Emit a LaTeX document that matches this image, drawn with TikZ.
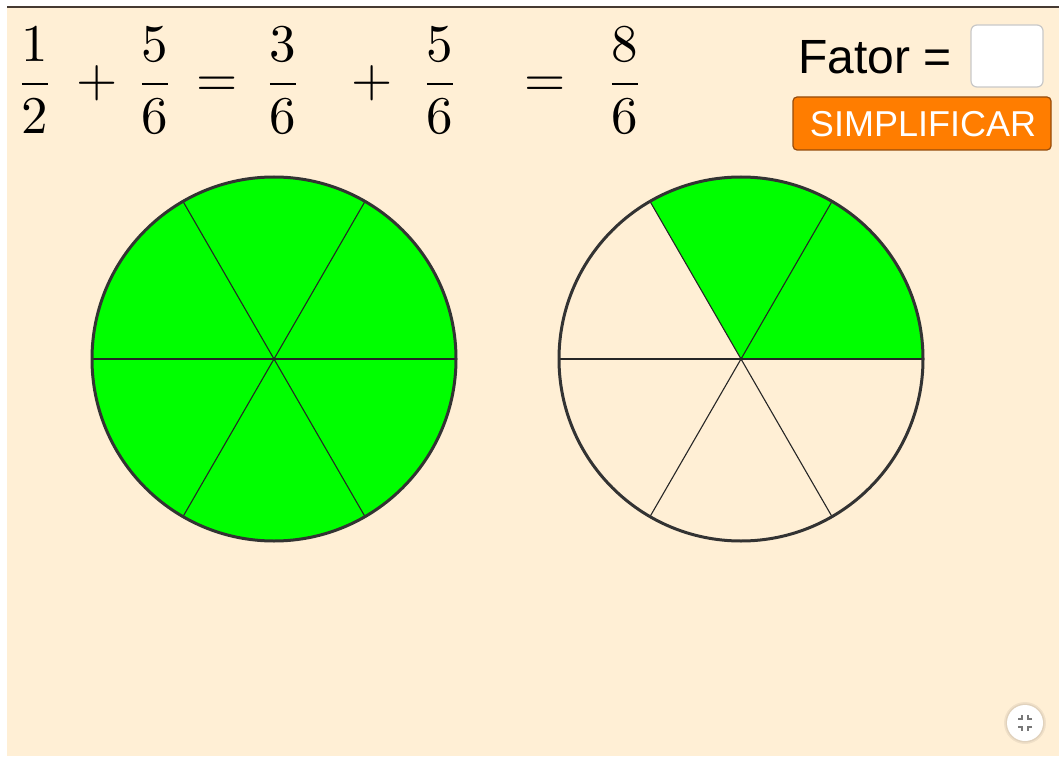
\documentclass[tikz,border=0pt]{standalone}
\usepackage{fontspec}
\usepackage{amsmath}
\usetikzlibrary{calc}
\newfontfamily\arialf{Liberation Sans}
\definecolor{bg}{RGB}{255,239,213}
\definecolor{topline}{RGB}{70,58,50}
\definecolor{pie}{RGB}{0,255,0}
\definecolor{rim}{RGB}{51,51,51}
\definecolor{btn}{RGB}{255,125,0}
\definecolor{btnedge}{RGB}{150,75,10}
\definecolor{boxedge}{RGB}{200,200,200}
\definecolor{icon}{RGB}{120,120,120}
\tikzset{
  mth/.style={anchor=base, inner sep=0pt, scale=5.3},
  rimline/.style={draw=rim, line width=3pt},
  spoke/.style={draw=black!85, line width=1.1pt},
  iconmark/.style={draw=icon, line width=1.4pt},
}
\begin{document}
\begin{tikzpicture}[x=1pt,y=1pt]
\useasboundingbox (0,0) rectangle (1059,756);
\fill[white] (0,0) rectangle (1059,756);
\fill[bg] (7,0) rectangle (1059,749);
\draw[topline, line width=1.5pt] (7,749) -- (1059,749);

% equation
\node[mth] (f1) at (35,659) {$\dfrac{1}{2}$};
\node[mth] (p1) at (97,659) {$+$};
\node[mth] (f2) at (155,659) {$\dfrac{5}{6}$};
\node[mth] (e1) at (217,659) {$=$};
\node[mth] (f3) at (283,659) {$\dfrac{3}{6}$};
\node[mth] (p2) at (372,659) {$+$};
\node[mth] (f4) at (440,659) {$\dfrac{5}{6}$};
\node[mth] (e2) at (545,659) {$=$};
\node[mth] (f5) at (625,659) {$\dfrac{8}{6}$};

% Fator input
\node[anchor=base west, inner sep=0pt, font=\arialf\fontsize{48}{56}\selectfont] (fator) at (798,682) {Fator =};
\draw[fill=white, draw=boxedge, line width=1.2pt, rounded corners=6pt] (971,669) rectangle (1043,731);
\coordinate (inbox) at (1007,700);

% button
\draw[fill=btn, draw=btnedge, line width=1.2pt, rounded corners=4pt] (793,606) rectangle (1051,659);
\node[anchor=base, inner sep=0pt, text=white, font=\arialf\fontsize{36}{42}\selectfont] (simp) at (923,619) {SIMPLIFICAR};

% left circle
\coordinate (c1) at (274,397);
\fill[pie] (c1) circle[radius=182];
\foreach \a in {0,60,...,300} \draw[spoke] (c1) -- ++(\a:182);
\draw[rimline] (c1) circle[radius=182];

% right circle
\coordinate (c2) at (741,397);
\fill[pie] (c2) -- ++(0:182) arc[start angle=0, end angle=120, radius=182] -- cycle;
\foreach \a in {0,60,...,300} \draw[spoke] (c2) -- ++(\a:182);
\draw[rimline] (c2) circle[radius=182];

% corner icon
\coordinate (ic) at (1025,33);
\fill[black, opacity=0.06] (ic) circle[radius=21];
\fill[black, opacity=0.06] (ic) circle[radius=19.5];
\fill[white] (ic) circle[radius=18];
\draw[iconmark] ($(ic)+(-7,4)$) -- ($(ic)+(-3,4)$) -- ($(ic)+(-3,8)$);
\draw[iconmark] ($(ic)+(7,4)$) -- ($(ic)+(3,4)$) -- ($(ic)+(3,8)$);
\draw[iconmark] ($(ic)+(-7,-4)$) -- ($(ic)+(-3,-4)$) -- ($(ic)+(-3,-8)$);
\draw[iconmark] ($(ic)+(7,-4)$) -- ($(ic)+(3,-4)$) -- ($(ic)+(3,-8)$);
\end{tikzpicture}
\end{document}
